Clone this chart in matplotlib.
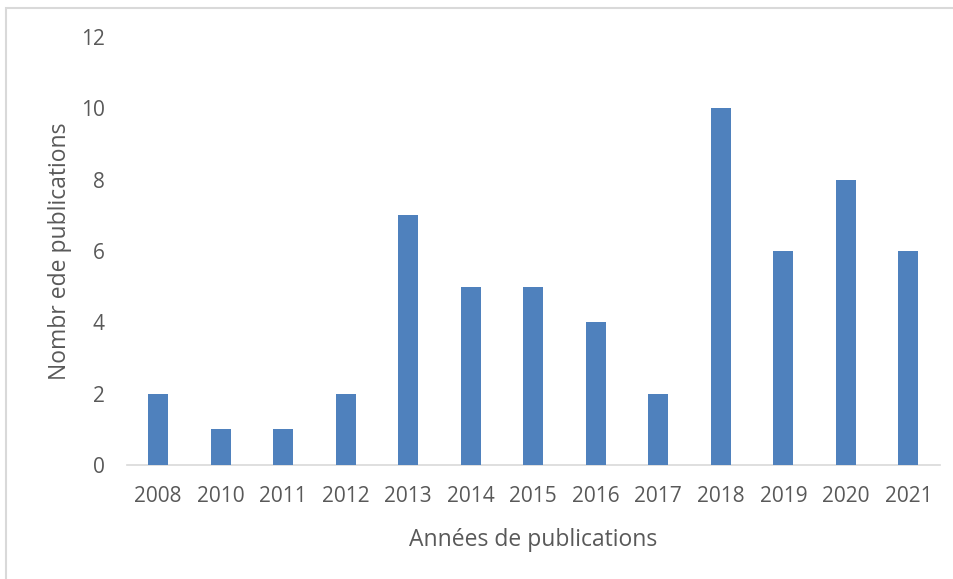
import matplotlib
matplotlib.use("Agg")
import matplotlib.pyplot as plt
from matplotlib.patches import Rectangle

years = ["2008", "2010", "2011", "2012", "2013", "2014", "2015", "2016", "2017", "2018", "2019", "2020", "2021"]
counts = [2, 1, 1, 2, 7, 5, 5, 4, 2, 10, 6, 8, 6]
yticks = [0, 2, 4, 6, 8, 10, 12]

plt.rcParams['font.family'] = ['Open Sans', 'DejaVu Sans']

fig = plt.figure(figsize=(9.54, 5.79), dpi=100)
ax = fig.add_axes([0.133, 0.197, 0.852, 0.739])

x = range(len(years))
ax.bar(x, counts, width=0.32, color="#4F81BD", zorder=3)
ax.set_xlim(-0.5, len(years) - 0.5)
ax.set_ylim(0, 12)
ax.set_yticks(yticks)
ax.set_xticks(list(x))
ax.set_xticklabels(years)

for s in ["top", "right", "left"]:
    ax.spines[s].set_visible(False)
ax.spines["bottom"].set_color("#D9D9D9")
ax.spines["bottom"].set_linewidth(1.2)
ax.tick_params(axis="both", length=0, labelsize=15, colors="#595959")
ax.tick_params(axis="x", pad=15)
ax.tick_params(axis="y", pad=16)

ax.set_xlabel("Années de publications", fontsize=16.5, color="#595959")
ax.set_ylabel("Nombr ede publications", fontsize=16.5, color="#595959")
ax.xaxis.set_label_coords(0.5, -0.147)
ax.yaxis.set_label_coords(-0.068, 0.5)

# chart-area frame (left and top edges visible, right/bottom at image edge)
fig.patches.append(Rectangle((6.5 / 954, -0.01), 1.02, 1.01 - 7.5 / 579 + 0.0,
                             transform=fig.transFigure,
                             fill=False, edgecolor="#D9D9D9", linewidth=1.5))

fig.savefig("out.png", dpi=100)
